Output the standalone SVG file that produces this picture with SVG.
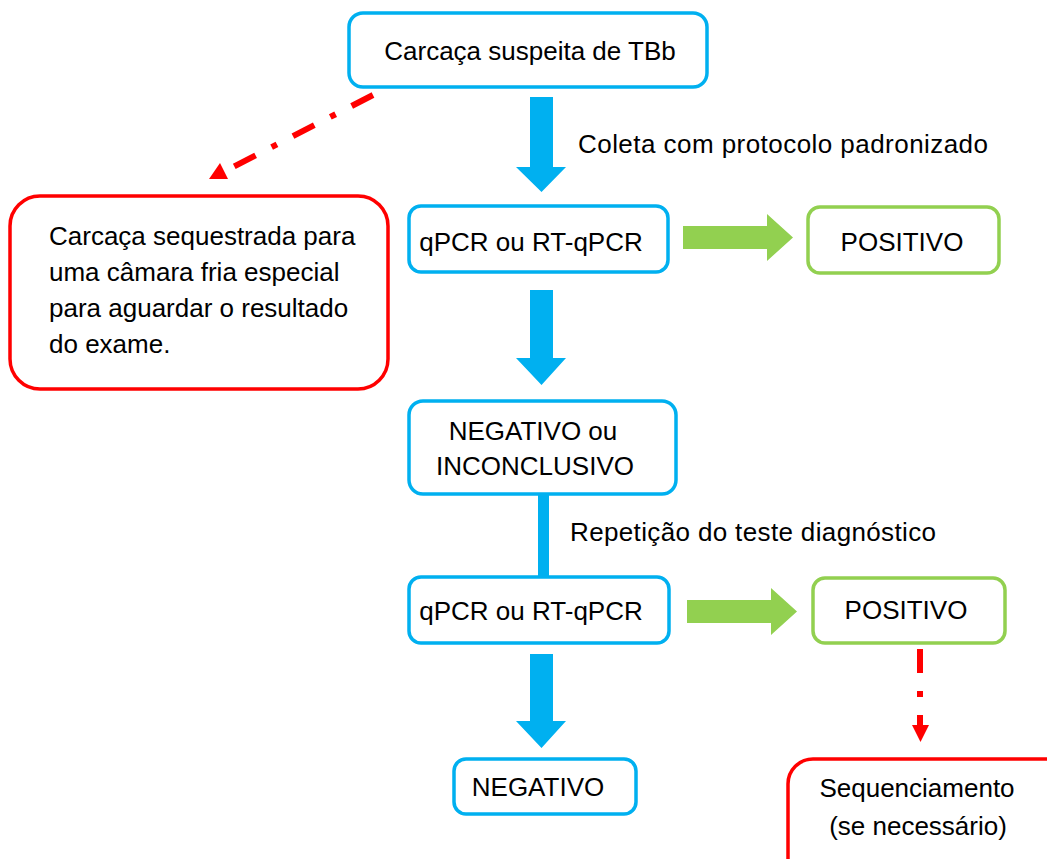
<svg xmlns="http://www.w3.org/2000/svg" width="1047" height="859" viewBox="0 0 1047 859">
  <style>
    .box { fill: #FFFFFF; stroke-width: 3.5; }
    .blue { stroke: #00B0F0; }
    .green { stroke: #92D050; }
    .red { stroke: #FF0000; }
    text { font-family: "Liberation Sans", Arial, sans-serif; font-size: 26px; fill: #000000; }
    .mid { text-anchor: middle; }
    .barrow { fill: #00B0F0; }
    .garrow { fill: #92D050; }
    .rdash { fill: none; stroke: #FF0000; stroke-width: 6; stroke-dasharray: 24 18 6 18; }
    .rhead { fill: #FF0000; }
  </style>
  <rect width="1047" height="859" fill="#FFFFFF"/>

  <g id="connectors">
    <polygon class="barrow" points="530,97 553,97 553,167 566,167 541.5,192 516,167 530,167"/>
    <polygon class="barrow" points="530,290 553,290 553,358 566,358 541.5,385 516,358 530,358"/>
    <rect class="barrow" x="538" y="494" width="11" height="83"/>
    <polygon class="barrow" points="530,654 553,654 553,721 566,721 541.5,748 516,721 530,721"/>
    <polygon class="garrow" points="683,226 767,226 767,214 793,237.5 767,261 767,249 683,249"/>
    <polygon class="garrow" points="687,600 771,600 771,588 797,611.5 771,635 771,623 687,623"/>
    <path class="rdash" d="M373,95 L233,167"/>
    <polygon class="rhead" points="209,179 228,179 220,163"/>
    <path class="rdash" d="M920,649 L920,727"/>
    <polygon class="rhead" points="912,725 929,725 920.5,742"/>
  </g>

  <g id="node-carcaca">
    <rect class="box blue" x="349" y="13" width="358" height="74" rx="14"/>
    <text class="mid" x="530" y="60">Carcaça suspeita de TBb</text>
  </g>

  <g id="label-coleta">
    <text x="578" y="153" textLength="410" lengthAdjust="spacing">Coleta com protocolo padronizado</text>
  </g>

  <g id="node-sequestrada">
    <rect class="box red" x="10" y="196" width="378" height="193" rx="30"/>
    <text x="49" y="245">Carcaça sequestrada para</text>
    <text x="49" y="281">uma câmara fria especial</text>
    <text x="49" y="317">para aguardar o resultado</text>
    <text x="49" y="353">do exame.</text>
  </g>

  <g id="node-qpcr1">
    <rect class="box blue" x="409" y="206" width="259" height="66" rx="12"/>
    <text class="mid" x="531" y="251">qPCR ou RT-qPCR</text>
  </g>

  <g id="node-positivo1">
    <rect class="box green" x="808" y="207" width="191" height="66" rx="12"/>
    <text class="mid" x="902" y="251">POSITIVO</text>
  </g>

  <g id="node-negativo-inconclusivo">
    <rect class="box blue" x="409" y="401" width="267" height="93" rx="14"/>
    <text class="mid" x="533" y="440">NEGATIVO ou</text>
    <text class="mid" x="535" y="475">INCONCLUSIVO</text>
  </g>

  <g id="label-repeticao">
    <text x="570" y="541" textLength="366" lengthAdjust="spacing">Repetição do teste diagnóstico</text>
  </g>

  <g id="node-qpcr2">
    <rect class="box blue" x="409" y="577" width="260" height="66" rx="12"/>
    <text class="mid" x="531" y="620">qPCR ou RT-qPCR</text>
  </g>

  <g id="node-positivo2">
    <rect class="box green" x="813" y="578" width="192" height="65" rx="12"/>
    <text class="mid" x="906" y="619">POSITIVO</text>
  </g>

  <g id="node-negativo">
    <rect class="box blue" x="454" y="759" width="182" height="55" rx="12"/>
    <text class="mid" x="538" y="796">NEGATIVO</text>
  </g>

  <g id="node-sequenciamento">
    <rect class="box red" x="788" y="759" width="300" height="150" rx="25"/>
    <text class="mid" x="917" y="797">Sequenciamento</text>
    <text class="mid" x="918" y="835">(se necessário)</text>
  </g>
</svg>
